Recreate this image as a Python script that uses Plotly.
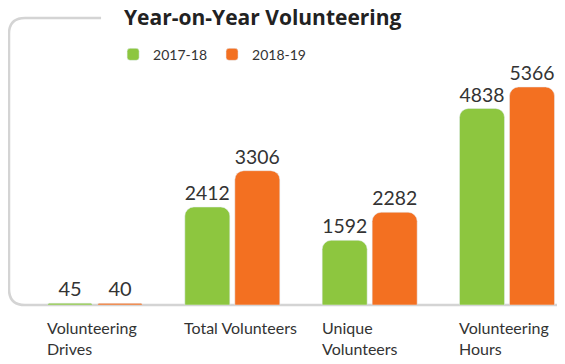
import plotly.graph_objects as go

categories = ['Volunteering Drives', 'Total Volunteers', 'Unique Volunteers', 'Volunteering Hours']
category_labels = ['Volunteering<br>Drives', 'Total Volunteers', 'Unique<br>Volunteers', 'Volunteering<br>Hours']
values_2017 = [45, 2412, 1592, 4838]
values_2018 = [40, 3306, 2282, 5366]
series_names = ['2017-18', '2018-19']

GREEN = '#8DC63F'
ORANGE = '#F37021'
TEXT = '#333333'
FRAME = '#D4D4D4'

# the page body adds an 8px offset, so the figure is sized to the visible area
W, H = 557, 356

fig = go.Figure()

for name, vals, col in [(series_names[0], values_2017, GREEN),
                        (series_names[1], values_2018, ORANGE)]:
    fig.add_trace(go.Bar(
        x=categories, y=vals, name=name,
        marker=dict(color=col, cornerradius=9),
        text=[str(v) for v in vals], textposition='outside',
        textfont=dict(size=20, color=TEXT, family='Lato'),
        cliponaxis=False,
    ))

# category labels, left aligned under each group
for cat, lab in zip(categories, category_labels):
    fig.add_annotation(
        x=cat, xref='x', y=-0.04, yref='paper',
        text=lab, showarrow=False, xanchor='left', yanchor='top',
        align='left', xshift=-50,
        font=dict(size=16, color=TEXT, family='Lato'),
    )

# rounded frame on left and bottom
rx, ry = 16 / 548, 16 / 287
frame_path = (f'M 0.168,1 L {rx},1 Q 0,1 0,{1 - ry} '
              f'L 0,{ry} Q 0,0 {rx},0 L 1,0')
fig.add_shape(type='path', path=frame_path, xref='paper', yref='paper',
              line=dict(color=FRAME, width=2.5), layer='below')

fig.update_layout(
    width=W, height=H,
    margin=dict(l=1, r=8, t=10, b=59),
    paper_bgcolor='white', plot_bgcolor='white',
    barmode='group', bargap=0.272, bargroupgap=0.1,
    title=dict(text='<b>Year-on-Year Volunteering</b>', x=116 / W, xanchor='left',
               y=1 - 2 / H, yanchor='top', xref='container', yref='container',
               font=dict(size=21, color='#222222', family='Open Sans')),
    legend=dict(orientation='h', x=0.19, xanchor='left', y=0.872, yanchor='middle',
                font=dict(size=14, color=TEXT, family='Lato'),
                itemwidth=30, bgcolor='rgba(0,0,0,0)'),
    xaxis=dict(range=[-0.626, 3.364], showticklabels=False, showline=False,
               showgrid=False, zeroline=False, fixedrange=True),
    yaxis=dict(range=[0, 7064], visible=False, showgrid=False, zeroline=False),
    showlegend=True,
)

fig.write_html('out.html')
